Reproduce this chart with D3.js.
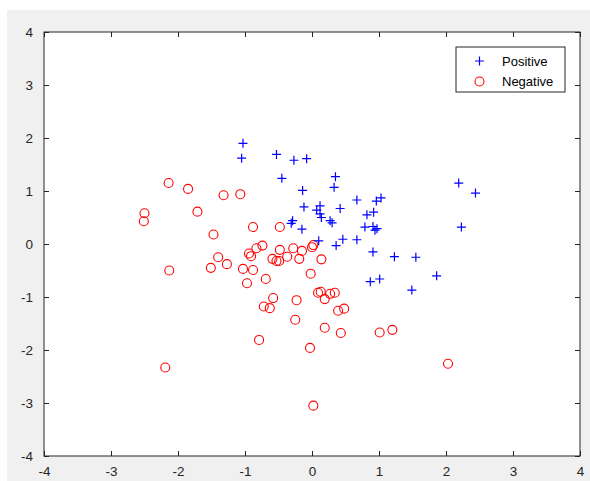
<!DOCTYPE html>
<html lang="en">
<head>
    <meta charset="UTF-8">
    <title>Positive / Negative</title>
    <script src="https://d3js.org/d3.v7.min.js"></script>
    <style>
        body{margin:0;background:#fff;}
    </style>
</head>
<body>
<div id="resultat"></div>
<script>
    // points : [x, y]
    let posX = [-1.03,-1.05,-0.53,-0.27,-0.08,-0.45,0.35,0.33,-0.14,-0.12,0.12,0.07,0.12,0.14,0.27,0.30,0.42,0.67,0.96,1.03,0.82,0.92,0.79,0.91,0.94,0.97,-0.29,-0.31,-0.15,0.10,0.46,0.67,0.36,0.91,1.23,1.55,0.87,1.01,1.49,1.86,2.19,2.44,2.23],
        posY = [1.90,1.62,1.69,1.58,1.61,1.24,1.27,1.07,1.01,0.70,0.72,0.64,0.57,0.50,0.44,0.40,0.67,0.83,0.81,0.87,0.55,0.60,0.32,0.33,0.26,0.29,0.44,0.39,0.28,0.06,0.09,0.08,-0.03,-0.15,-0.24,-0.25,-0.71,-0.66,-0.87,-0.60,1.15,0.96,0.32],
        negX = [-2.14,-1.85,-1.32,-1.07,-2.50,-2.51,-1.71,-1.47,-0.88,-0.48,-0.74,-0.83,-0.94,-0.91,-0.48,-0.28,-0.15,0.00,-1.40,-2.13,-1.51,-1.27,-1.03,-0.88,-0.97,-0.69,-0.59,-0.53,-0.49,-0.37,-0.19,0.14,-0.02,-0.58,-0.72,-0.63,-0.23,-0.25,0.09,0.19,0.27,0.34,0.39,0.48,0.19,0.43,-0.79,-0.03,-2.19,0.02,1.01,1.20,2.03,0.13,0.02],
        negY = [1.15,1.04,0.92,0.94,0.58,0.43,0.61,0.18,0.32,0.32,-0.03,-0.08,-0.18,-0.23,-0.11,-0.08,-0.13,-0.06,-0.25,-0.50,-0.45,-0.38,-0.47,-0.49,-0.74,-0.66,-0.28,-0.32,-0.32,-0.24,-0.28,-0.29,-0.56,-1.02,-1.18,-1.21,-1.06,-1.43,-0.92,-1.04,-0.94,-0.92,-1.26,-1.22,-1.58,-1.68,-1.81,-1.96,-2.33,-3.05,-1.67,-1.62,-2.26,-0.90,-0.02],
        ticks = [-4,-3,-2,-1,0,1,2,3,4],
        legendLabels = ['Positive','Negative'];

    let width = 590, height = 481,
        mLeft = 44, mRight = 580, mTop = 32, mBottom = 456,
        tickLen = 5, axisColor = '#262626';

    let scX = d3.scaleLinear().domain([-4,4]).range([mLeft, mRight]),
        scY = d3.scaleLinear().domain([-4,4]).range([mBottom, mTop]);

    let svg = d3.select('#resultat').append('svg')
        .attr('width', width)
        .attr('height', height)
        .style('display','block')
        .style('font', '13px Arial, "Liberation Sans", sans-serif');

    // fond gris de la figure
    svg.append('rect').attr('x',7).attr('y',10).attr('width',width-7).attr('height',height-10).attr('fill','#f0f0f0');
    svg.append('rect').attr('x',mLeft).attr('y',mTop).attr('width',mRight-mLeft).attr('height',mBottom-mTop).attr('fill','#fff');

    // axes avec ticks vers l'intérieur, sur les quatre côtés
    let fmt = d => String(d);   // trait d'union simple comme dans MATLAB
    function styleAxis(g){
        g.select('.domain').remove();
        g.selectAll('.tick line').attr('stroke', axisColor);
        g.selectAll('.tick text').attr('fill', axisColor).style('font-size','13.5px');
    }
    svg.append('g').attr('transform',`translate(0,${mBottom})`)
        .call(d3.axisBottom(scX).tickValues(ticks).tickSizeInner(-tickLen).tickSizeOuter(0).tickPadding(10).tickFormat(fmt))
        .call(styleAxis);
    svg.append('g').attr('transform',`translate(0,${mTop})`)
        .call(d3.axisTop(scX).tickValues(ticks).tickSizeInner(-tickLen).tickSizeOuter(0).tickFormat(''))
        .call(styleAxis);
    svg.append('g').attr('transform',`translate(${mLeft},0)`)
        .call(d3.axisLeft(scY).tickValues(ticks).tickSizeInner(-tickLen).tickSizeOuter(0).tickPadding(11).tickFormat(fmt))
        .call(styleAxis);
    svg.append('g').attr('transform',`translate(${mRight},0)`)
        .call(d3.axisRight(scY).tickValues(ticks).tickSizeInner(-tickLen).tickSizeOuter(0).tickFormat(''))
        .call(styleAxis);
    svg.append('rect').attr('x',mLeft).attr('y',mTop).attr('width',mRight-mLeft).attr('height',mBottom-mTop)
        .attr('fill','none').attr('stroke',axisColor).attr('stroke-width',1);

    function plusPath(s){ return `M${-s},0H${s}M0,${-s}V${s}`; }

    let pos = posX.map((x,i)=>[x,posY[i]]),
        neg = negX.map((x,i)=>[x,negY[i]]);

    svg.append('g').selectAll('circle').data(neg).enter().append('circle')
        .attr('cx', d=>scX(d[0])).attr('cy', d=>scY(d[1])).attr('r', 4.5)
        .attr('fill','none').attr('stroke','#ff0000').attr('stroke-width',1.1);

    svg.append('g').selectAll('path').data(pos).enter().append('path')
        .attr('transform', d=>`translate(${scX(d[0])},${scY(d[1])})`)
        .attr('d', plusPath(4.5))
        .attr('fill','none').attr('stroke','#0000ff').attr('stroke-width',1.2);

    // légende
    let leg = svg.append('g').attr('transform','translate(456,47)');
    leg.append('rect').attr('width',109).attr('height',45).attr('fill','#fff').attr('stroke',axisColor);
    leg.append('path').attr('transform','translate(23.5,14)').attr('d', plusPath(4.5))
        .attr('stroke','#0000ff').attr('stroke-width',1.2);
    leg.append('circle').attr('cx',23.5).attr('cy',34.5).attr('r',4.5)
        .attr('fill','none').attr('stroke','#ff0000').attr('stroke-width',1.1);
    leg.selectAll('text').data(legendLabels).enter().append('text')
        .attr('x',46).attr('y',(d,i)=>14+i*20.5).attr('dy','0.35em')
        .attr('fill','#000').style('font-size','13px')
        .text(d=>d);
</script>
</body>
</html>
